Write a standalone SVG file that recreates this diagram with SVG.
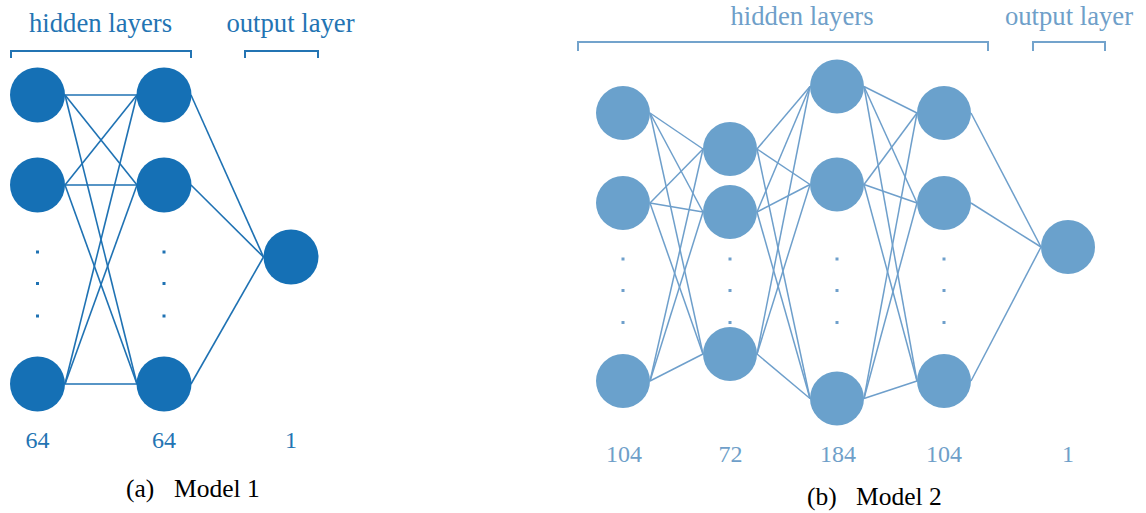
<svg xmlns="http://www.w3.org/2000/svg" width="1146" height="513" viewBox="0 0 1146 513">
  <style>
    text { font-family: "Liberation Serif", "DejaVu Serif", serif; }
    .head1 { fill: #2374b3; font-size: 26.7px; text-anchor: middle; }
    .head2 { fill: #6f9fc9; font-size: 26.7px; text-anchor: middle; }
    .num1 { fill: #2374b3; font-size: 24px; text-anchor: middle; }
    .num2 { fill: #6f9fc9; font-size: 24px; text-anchor: middle; }
    .cap { fill: #000; font-size: 25.5px; }
    .br1 { fill: none; stroke: #2374b3; stroke-width: 2; }
    .br2 { fill: none; stroke: #73a3cc; stroke-width: 2; }
    .e1 line { stroke: #1f72b3; stroke-width: 1.6; }
    .e2 line { stroke: #6e9fcb; stroke-width: 1.5; }
    .n1 { fill: #1570b5; }
    .n2 { fill: #6aa1cc; }
    .d1 { fill: #1f72b3; }
    .d2 { fill: #6e9fcb; }
  </style>

  <!-- ===== Model 1 ===== -->
  <g id="m1-labels" font-family="Liberation Serif, serif">
    <text class="head1" x="100.5" y="32">hidden layers</text>
    <text class="head1" x="290.5" y="32">output layer</text>
    <path class="br1" d="M11,58 V51 H191 V58"/>
    <path class="br1" d="M245,58 V51 H318 V58"/>
    <text class="num1" x="37.5" y="448">64</text>
    <text class="num1" x="164" y="448">64</text>
    <text class="num1" x="291" y="448">1</text>
    <text class="cap" x="126" y="497">(a)</text>
    <text class="cap" x="174" y="497">Model 1</text>
  </g>

  <g id="m1-connectors" class="e1">
    <!-- layer 1 to layer 2 -->
    <line x1="65" y1="95" x2="137" y2="95"/>
    <line x1="65" y1="95" x2="137" y2="185"/>
    <line x1="65" y1="95" x2="137" y2="384"/>
    <line x1="65" y1="185" x2="137" y2="95"/>
    <line x1="65" y1="185" x2="137" y2="185"/>
    <line x1="65" y1="185" x2="137" y2="384"/>
    <line x1="65" y1="384" x2="137" y2="95"/>
    <line x1="65" y1="384" x2="137" y2="185"/>
    <line x1="65" y1="384" x2="137" y2="384"/>
    <!-- layer 2 to output -->
    <line x1="191" y1="95" x2="263.5" y2="257"/>
    <line x1="191" y1="185" x2="263.5" y2="257"/>
    <line x1="191" y1="384" x2="263.5" y2="257"/>
  </g>

  <g id="m1-dots">
    <rect class="d1" x="36" y="250.5" width="3" height="3"/>
    <rect class="d1" x="36" y="282" width="3" height="3"/>
    <rect class="d1" x="36" y="314.5" width="3" height="3"/>
    <rect class="d1" x="162.5" y="250.5" width="3" height="3"/>
    <rect class="d1" x="162.5" y="282" width="3" height="3"/>
    <rect class="d1" x="162.5" y="314.5" width="3" height="3"/>
  </g>

  <g id="m1-layer1">
    <circle class="n1" cx="37.5" cy="95" r="27.5"/>
    <circle class="n1" cx="37.5" cy="185" r="27.5"/>
    <circle class="n1" cx="37.5" cy="384" r="27.5"/>
  </g>
  <g id="m1-layer2">
    <circle class="n1" cx="164" cy="95" r="27.5"/>
    <circle class="n1" cx="164" cy="185" r="27.5"/>
    <circle class="n1" cx="164" cy="384" r="27.5"/>
  </g>
  <g id="m1-output">
    <circle class="n1" cx="291" cy="257" r="27.5"/>
  </g>

  <!-- ===== Model 2 ===== -->
  <g id="m2-labels">
    <text class="head2" x="802" y="25">hidden layers</text>
    <text class="head2" x="1069" y="25">output layer</text>
    <path class="br2" d="M578,51 V42 H988 V51"/>
    <path class="br2" d="M1033,51 V42 H1105 V51"/>
    <text class="num2" x="624" y="462">104</text>
    <text class="num2" x="730.5" y="462">72</text>
    <text class="num2" x="838" y="462">184</text>
    <text class="num2" x="944" y="462">104</text>
    <text class="num2" x="1068" y="462">1</text>
    <text class="cap" x="807" y="505">(b)</text>
    <text class="cap" x="856" y="505">Model 2</text>
  </g>

  <g id="m2-connectors" class="e2">
    <!-- layer 1 to layer 2 -->
    <line x1="650" y1="113" x2="703" y2="149"/>
    <line x1="650" y1="113" x2="703" y2="212"/>
    <line x1="650" y1="113" x2="703" y2="354"/>
    <line x1="650" y1="203" x2="703" y2="149"/>
    <line x1="650" y1="203" x2="703" y2="212"/>
    <line x1="650" y1="203" x2="703" y2="354"/>
    <line x1="650" y1="381" x2="703" y2="149"/>
    <line x1="650" y1="381" x2="703" y2="212"/>
    <line x1="650" y1="381" x2="703" y2="354"/>
    <!-- layer 2 to layer 3 -->
    <line x1="757" y1="149" x2="810" y2="86.5"/>
    <line x1="757" y1="149" x2="810" y2="184.5"/>
    <line x1="757" y1="149" x2="810" y2="398.5"/>
    <line x1="757" y1="212" x2="810" y2="86.5"/>
    <line x1="757" y1="212" x2="810" y2="184.5"/>
    <line x1="757" y1="212" x2="810" y2="398.5"/>
    <line x1="757" y1="354" x2="810" y2="86.5"/>
    <line x1="757" y1="354" x2="810" y2="184.5"/>
    <line x1="757" y1="354" x2="810" y2="398.5"/>
    <!-- layer 3 to layer 4 -->
    <line x1="864" y1="86.5" x2="917" y2="113"/>
    <line x1="864" y1="86.5" x2="917" y2="203"/>
    <line x1="864" y1="86.5" x2="917" y2="381"/>
    <line x1="864" y1="184.5" x2="917" y2="113"/>
    <line x1="864" y1="184.5" x2="917" y2="203"/>
    <line x1="864" y1="184.5" x2="917" y2="381"/>
    <line x1="864" y1="398.5" x2="917" y2="113"/>
    <line x1="864" y1="398.5" x2="917" y2="203"/>
    <line x1="864" y1="398.5" x2="917" y2="381"/>
    <!-- layer 4 to output -->
    <line x1="971" y1="113" x2="1041" y2="247"/>
    <line x1="971" y1="203" x2="1041" y2="247"/>
    <line x1="971" y1="381" x2="1041" y2="247"/>
  </g>

  <g id="m2-dots">
    <rect class="d2" x="621.5" y="257.5" width="3" height="3"/>
    <rect class="d2" x="621.5" y="289" width="3" height="3"/>
    <rect class="d2" x="621.5" y="321" width="3" height="3"/>
    <rect class="d2" x="728.5" y="257.5" width="3" height="3"/>
    <rect class="d2" x="728.5" y="289" width="3" height="3"/>
    <rect class="d2" x="728.5" y="321" width="3" height="3"/>
    <rect class="d2" x="835.5" y="257.5" width="3" height="3"/>
    <rect class="d2" x="835.5" y="289" width="3" height="3"/>
    <rect class="d2" x="835.5" y="321" width="3" height="3"/>
    <rect class="d2" x="942.5" y="257.5" width="3" height="3"/>
    <rect class="d2" x="942.5" y="289" width="3" height="3"/>
    <rect class="d2" x="942.5" y="321" width="3" height="3"/>
  </g>

  <g id="m2-layer1">
    <circle class="n2" cx="623" cy="113" r="27"/>
    <circle class="n2" cx="623" cy="203" r="27"/>
    <circle class="n2" cx="623" cy="381" r="27"/>
  </g>
  <g id="m2-layer2">
    <circle class="n2" cx="730" cy="149" r="27"/>
    <circle class="n2" cx="730" cy="212" r="27"/>
    <circle class="n2" cx="730" cy="354" r="27"/>
  </g>
  <g id="m2-layer3">
    <circle class="n2" cx="837" cy="86.5" r="27"/>
    <circle class="n2" cx="837" cy="184.5" r="27"/>
    <circle class="n2" cx="837" cy="398.5" r="27"/>
  </g>
  <g id="m2-layer4">
    <circle class="n2" cx="944" cy="113" r="27"/>
    <circle class="n2" cx="944" cy="203" r="27"/>
    <circle class="n2" cx="944" cy="381" r="27"/>
  </g>
  <g id="m2-output">
    <circle class="n2" cx="1068" cy="247" r="27"/>
  </g>
</svg>
